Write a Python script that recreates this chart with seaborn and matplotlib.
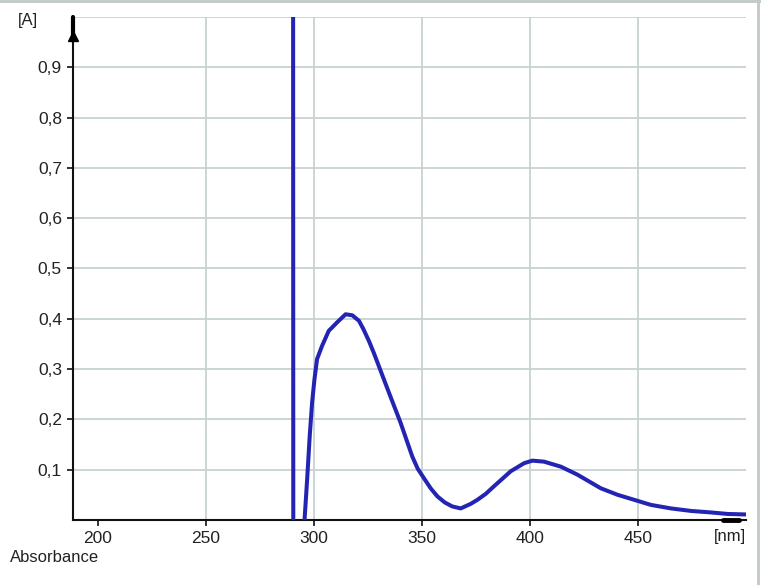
import numpy as np
import pandas as pd
import seaborn as sns
import matplotlib.pyplot as plt
from matplotlib.lines import Line2D

# spectrum (nm, absorbance)
wavelength = [290.3, 290.4, 295.5, 295.6, 296.8, 298.0, 299.1, 300.2, 301.4, 303.7,
              306.8, 310.7, 314.6, 317.7, 320.8, 322.8, 325.4, 327.7, 330.0, 334.7,
              340.1, 345.5, 348.0, 350.9, 354.0, 357.1, 360.5, 364.0, 367.9, 372.5,
              375.6, 379.5, 383.3, 387.2, 391.1, 397.3, 401.1, 406.5, 414.3, 422.0,
              432.8, 440.6, 448.3, 456.0, 465.3, 474.6, 483.9, 491.6, 500.0]
absorbance = [1.2, -0.1, -0.02, 0.0, 0.08, 0.167, 0.233, 0.28, 0.32, 0.346,
              0.376, 0.393, 0.409, 0.407, 0.396, 0.38, 0.356, 0.332, 0.306, 0.253,
              0.193, 0.126, 0.102, 0.083, 0.063, 0.047, 0.035, 0.027, 0.023, 0.032,
              0.04, 0.052, 0.067, 0.082, 0.097, 0.113, 0.118, 0.116, 0.106, 0.09,
              0.063, 0.05, 0.04, 0.03, 0.023, 0.018, 0.015, 0.012, 0.011]

x_ticks = [200, 250, 300, 350, 400, 450]
y_ticks = [0.1, 0.2, 0.3, 0.4, 0.5, 0.6, 0.7, 0.8, 0.9]

df = pd.DataFrame({'nm': wavelength, 'A': absorbance})

sns.set_theme(style='white')
plt.rcParams['font.family'] = ['Liberation Sans', 'DejaVu Sans']

fig = plt.figure(figsize=(7.61, 5.85), dpi=100)
ax = fig.add_axes([73 / 761, 65 / 585, 673 / 761, 503 / 585])

sns.lineplot(data=df, x='nm', y='A', sort=False, estimator=None,
             color='#2424b4', lw=2.9, ax=ax, zorder=3)

ax.set_xlim(188.4, 500)
ax.set_ylim(0, 1.0)
ax.set_xticks(x_ticks)
ax.set_xticklabels([str(t) for t in x_ticks])
ax.set_yticks(y_ticks)
ax.set_yticklabels([f'{t:.1f}'.replace('.', ',') for t in y_ticks])
ax.set_xlabel('')
ax.set_ylabel('')

ax.grid(True, color='#c8d2d2', lw=1.3)
ax.get_xgridlines()[0].set_visible(False)
ax.axhline(1.0, color='#c8d2d2', lw=1.3, zorder=0)

for s in ['top', 'right']:
    ax.spines[s].set_visible(False)
for s in ['left', 'bottom']:
    ax.spines[s].set_color('#111111')
    ax.spines[s].set_linewidth(1.5)

ax.tick_params(axis='both', which='major', direction='out', length=4, width=1.2,
               color='#111111', labelsize=12.5, labelcolor='#222222', pad=4,
               left=True, bottom=True)

# axis end markers
ax.plot([0, 0], [0.955, 1.0], transform=ax.transAxes, color='black', lw=3,
        clip_on=False, zorder=5)
ax.plot([0], [0.962], transform=ax.transAxes, marker='^', color='black',
        markersize=7, clip_on=False, zorder=5)
ax.plot([0.966, 0.99], [0, 0], transform=ax.transAxes, color='black', lw=3.5,
        clip_on=False, zorder=5)

fig.text(18 / 761, 1 - 20 / 585, '[A]', fontsize=12, color='#222222', va='center', ha='left')
fig.text(746 / 761, 1 - 537 / 585, '[nm]', fontsize=12, color='#222222', va='center', ha='right')
fig.text(10 / 761, 1 - 558 / 585, 'Absorbance', fontsize=12, color='#222222',
         va='center', ha='left')

# window frame
fig.add_artist(Line2D([0, 1], [0.999, 0.999], transform=fig.transFigure,
                      color='#c0c8c8', lw=2))
fig.add_artist(Line2D([0.9955, 0.9955], [0, 1], transform=fig.transFigure,
                      color='#c0c8c8', lw=2))

fig.savefig('out.png', dpi=100)
